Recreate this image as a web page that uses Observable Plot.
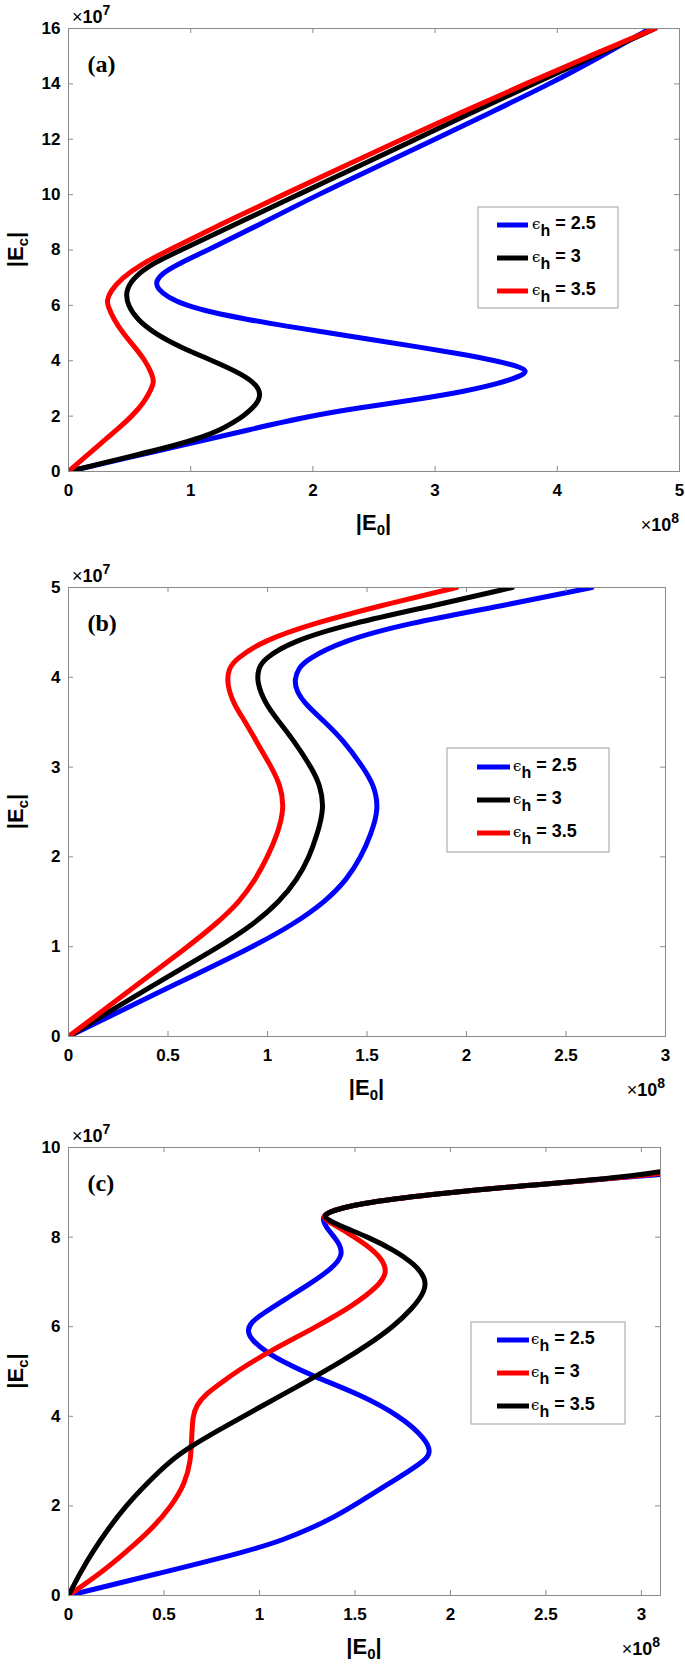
<!DOCTYPE html>
<html><head><meta charset="utf-8">
<script src="https://cdn.jsdelivr.net/npm/d3@7"></script>
<script src="https://cdn.jsdelivr.net/npm/@observablehq/plot@0.6"></script>
<style>
body{margin:0;background:#fff;}
#wrap{width:685px;}
.panel{position:relative;width:685px;display:block;}
.panel svg{display:block;}
</style></head><body><div id="wrap"></div><script>
// Units: |E0| in 1e8, |Ec| in 1e7
// ---- Panel (a) ----
const aXTicks = [0,1,2,3,4,5];
const aYTicks = [0,2,4,6,8,10,12,14,16];
const aBlueEc = [0,0.5,1,1.5,2,2.3,2.6,2.9,3.2,3.45,3.62,3.8,4.0,4.25,4.5,4.75,5.0,5.25,5.5,5.75,6.0,6.3,6.6,6.86,7.2,7.5,8,9,10,11,12,13,14,15,16];
const aBlueE0 = [0,0.49,0.98,1.47,1.97,2.38,2.85,3.25,3.54,3.70,3.76,3.68,3.50,3.20,2.86,2.50,2.14,1.78,1.45,1.17,0.96,0.81,0.73,0.71,0.78,0.90,1.14,1.60,2.04,2.52,3.0,3.47,3.94,4.36,4.76];
const aBlackEc = [0,0.5,1,1.25,1.5,1.75,2,2.3,2.55,2.8,3.1,3.5,4,4.5,5,5.5,6,6.5,7,7.5,8,9,10,11,12,13,14,15,16];
const aBlackE0 = [0,0.47,0.92,1.10,1.24,1.34,1.43,1.51,1.555,1.57,1.545,1.43,1.18,0.91,0.70,0.56,0.485,0.465,0.53,0.68,0.92,1.40,1.88,2.36,2.84,3.32,3.80,4.30,4.80];
const aRedEc = [0,0.5,1,1.5,2,2.5,3,3.24,3.5,4,4.5,5,5.5,6,6.17,6.5,7,7.5,8,9,10,11,12,13,14,15,16];
const aRedE0 = [0,0.13,0.26,0.395,0.52,0.62,0.68,0.70,0.685,0.63,0.54,0.445,0.37,0.32,0.315,0.34,0.44,0.60,0.82,1.28,1.76,2.24,2.73,3.23,3.74,4.26,4.80];
// ---- Panel (b) ----
const bXTicks = [0,0.5,1,1.5,2,2.5,3];
const bYTicks = [0,1,2,3,4,5];
const bBlueEc = [0,0.5,1,1.25,1.5,1.75,2,2.25,2.54,2.8,3,3.3,3.5,3.7,3.85,3.97,4.1,4.2,4.4,4.6,4.8,5];
const bBlueE0 = [0,0.46,0.93,1.13,1.29,1.40,1.47,1.52,1.56,1.535,1.48,1.38,1.29,1.19,1.145,1.135,1.155,1.20,1.37,1.70,2.19,2.63];
const bBlackEc = [0,0.5,1,1.25,1.5,1.75,2,2.25,2.54,2.8,3,3.3,3.5,3.7,3.95,4.1,4.2,4.4,4.6,4.8,5];
const bBlackE0 = [0,0.37,0.76,0.93,1.06,1.15,1.21,1.25,1.285,1.265,1.22,1.13,1.06,0.99,0.945,0.955,0.98,1.12,1.42,1.84,2.23];
const bRedEc = [0,0.5,1,1.25,1.5,1.75,2,2.25,2.54,2.8,3,3.3,3.5,3.7,3.93,4.1,4.2,4.4,4.6,4.8,5];
const bRedE0 = [0,0.30,0.60,0.74,0.86,0.94,1.00,1.05,1.085,1.065,1.02,0.94,0.89,0.83,0.795,0.805,0.84,0.97,1.23,1.57,1.95];
// ---- Panel (c) ----
const cXTicks = [0,0.5,1,1.5,2,2.5,3];
const cYTicks = [0,2,4,6,8,10];
const cBlueEc = [0,0.5,1,1.25,1.5,1.75,2,2.5,2.8,3.0,3.18,3.5,4,4.5,4.88,5.2,5.45,5.7,5.9,6.1,6.3,6.6,7.0,7.3,7.6,7.9,8.2,8.44,8.55,8.65,8.75,8.85,8.95,9.05,9.15,9.25,9.33,9.40];
const cBlueE0 = [0,0.48,0.95,1.13,1.27,1.39,1.49,1.68,1.79,1.86,1.90,1.87,1.74,1.52,1.29,1.13,1.03,0.96,0.935,0.955,1.02,1.13,1.28,1.38,1.44,1.415,1.35,1.325,1.36,1.43,1.54,1.70,1.90,2.13,2.40,2.68,2.90,3.1];
const cRedEc = [0,0.5,1,1.5,2,2.5,3,3.5,4,4.25,4.5,4.75,5,5.45,6,6.5,6.9,7.2,7.5,7.8,8.1,8.3,8.44,8.55,8.65,8.75,8.85,8.95,9.05,9.15,9.25,9.34,9.42];
const cRedE0 = [0,0.17,0.31,0.44,0.54,0.61,0.64,0.645,0.65,0.67,0.72,0.80,0.88,1.05,1.30,1.50,1.62,1.67,1.645,1.57,1.46,1.38,1.325,1.36,1.43,1.54,1.70,1.90,2.13,2.40,2.68,2.91,3.1];
const cBlackEc = [0,0.5,1,1.5,2,2.5,3,3.34,3.7,4.2,4.88,5.2,5.6,6,6.4,6.8,7.1,7.4,7.7,8,8.2,8.44,8.55,8.65,8.75,8.85,8.95,9.05,9.15,9.25,9.35,9.46];
const cBlackE0 = [0,0.06,0.13,0.21,0.30,0.41,0.53,0.645,0.79,1.0,1.29,1.42,1.57,1.70,1.80,1.87,1.87,1.81,1.71,1.57,1.45,1.325,1.36,1.43,1.54,1.70,1.90,2.13,2.40,2.68,2.92,3.1];

const BLUE="#0000ff", BLACK="#000000", RED="#ff0000";
const panels = [
  {label:"(a)", height:545, mt:28, mb:74, ml:68, mr:6, xd:[0,5], yd:[0,16], xt:aXTicks, yt:aYTicks,
   series:[[aBlueE0,aBlueEc,BLUE,"2.5"],[aBlackE0,aBlackEc,BLACK,"3"],[aRedE0,aRedEc,RED,"3.5"]],
   legend:{x0:478,x1:618,y0:207,y1:308,l0:497,l1:528,rows:[225,258,291],tx:532}},
  {label:"(b)", height:570, mt:42, mb:79, ml:68, mr:20, xd:[0,3], yd:[0,5], xt:bXTicks, yt:bYTicks,
   series:[[bBlueE0,bBlueEc,BLUE,"2.5"],[bBlackE0,bBlackEc,BLACK,"3"],[bRedE0,bRedEc,RED,"3.5"]],
   legend:{x0:447,x1:609,y0:203,y1:307,l0:477,l1:510,rows:[222,255,288],tx:513}},
  {label:"(c)", height:554, mt:32, mb:74, ml:68, mr:25, xd:[0,3.1], yd:[0,10], xt:cXTicks, yt:cYTicks,
   series:[[cBlueE0,cBlueEc,BLUE,"2.5"],[cRedE0,cRedEc,RED,"3"],[cBlackE0,cBlackEc,BLACK,"3.5"]],
   legend:{x0:471,x1:625,y0:207,y1:309,l0:497,l1:529,rows:[225,258,291],tx:531}}
];

const W = 685, FRAME="#8a8a8a", SANS="'Liberation Sans', Arial, sans-serif";
const fmt = d => String(d);
const wrap = document.getElementById("wrap");
for (const p of panels) {
  const iw = W - p.ml - p.mr, ih = p.height - p.mt - p.mb;
  const lines = p.series.map(([xs, ys, color]) =>
    Plot.line(ys.map((y,i)=>({x:xs[i], y})), {x:"x", y:"y", stroke:color, strokeWidth:5, curve:"basis", clip:true}));
  const chart = Plot.plot({
    width: W, height: p.height,
    marginTop: p.mt, marginBottom: p.mb, marginLeft: p.ml, marginRight: p.mr,
    style: {fontFamily: SANS, fontWeight: "bold", fontSize: "17px", color: "#000", background: "#fff"},
    x: {domain: p.xd}, y: {domain: p.yd},
    marks: [
      ...lines,
      Plot.frame({stroke: FRAME, strokeWidth: 1}),
      Plot.tickX(p.xt, {x: d=>d, insetTop: ih-5, stroke: FRAME}),
      Plot.tickX(p.xt, {x: d=>d, insetBottom: ih-5, stroke: FRAME}),
      Plot.tickY(p.yt, {y: d=>d, insetLeft: iw-5, stroke: FRAME}),
      Plot.tickY(p.yt, {y: d=>d, insetRight: iw-5, stroke: FRAME}),
      Plot.axisX({ticks: p.xt, tickFormat: fmt, tickSize: 0, tickPadding: 12, label: null, fontSize: 17, fontWeight: "bold"}),
      Plot.axisY({ticks: p.yt, tickFormat: fmt, tickSize: 0, tickPadding: 8, label: null, fontSize: 17, fontWeight: "bold"}),
      Plot.text([p.label], {text: d=>d, frameAnchor: "top-left", dx: 19, dy: 26, textAnchor: "start",
        fontFamily: "'Liberation Serif', 'Times New Roman', serif", fontWeight: "bold", fontSize: 24, fill: "#000"})
    ]
  });
  const div = document.createElement("div");
  div.className = "panel";
  div.appendChild(chart);
  wrap.appendChild(div);
  const svg = d3.select(chart);

  // y label |Ec|
  const yl = svg.append("text").attr("transform", `translate(23,${p.mt+ih/2}) rotate(-90)`)
    .attr("text-anchor","middle").attr("font-size",22).attr("font-weight","bold").attr("font-family",SANS).attr("fill","#000");
  yl.append("tspan").text("|E");
  yl.append("tspan").attr("dy",5).attr("font-size",15).text("c");
  yl.append("tspan").attr("dy",-5).text("|");
  // x label |E0|
  const xl = svg.append("text").attr("x", p.ml+iw/2).attr("y", p.mt+ih+59)
    .attr("text-anchor","middle").attr("font-size",22).attr("font-weight","bold").attr("font-family",SANS).attr("fill","#000");
  xl.append("tspan").text("|E");
  xl.append("tspan").attr("dy",5).attr("font-size",15).text("0");
  xl.append("tspan").attr("dy",-5).text("|");
  // exponent labels
  const e7 = svg.append("text").attr("x", p.ml+4).attr("y", p.mt-5).attr("text-anchor","start")
    .attr("font-size",18).attr("font-family",SANS).attr("fill","#000");
  e7.append("tspan").attr("font-weight","normal").text("×");
  e7.append("tspan").attr("font-weight","bold").text("10");
  e7.append("tspan").attr("font-weight","bold").attr("font-size",14).attr("dy",-8).text("7");
  const e8 = svg.append("text").attr("x", W-p.mr).attr("y", p.mt+ih+60).attr("text-anchor","end")
    .attr("font-size",18).attr("font-family",SANS).attr("fill","#000");
  e8.append("tspan").attr("font-weight","normal").text("×");
  e8.append("tspan").attr("font-weight","bold").text("10");
  e8.append("tspan").attr("font-weight","bold").attr("font-size",14).attr("dy",-8).text("8");

  // legend
  const L = p.legend;
  const g = svg.append("g");
  g.append("rect").attr("x",L.x0).attr("y",L.y0).attr("width",L.x1-L.x0).attr("height",L.y1-L.y0)
    .attr("fill","#fff").attr("stroke","#a0a0a0").attr("stroke-width",1);
  p.series.forEach(([xs,ys,color,lab],i)=>{
    const cy = L.rows[i];
    g.append("line").attr("x1",L.l0).attr("x2",L.l1).attr("y1",cy).attr("y2",cy).attr("stroke",color).attr("stroke-width",5);
    const t = g.append("text").attr("x",L.tx).attr("y",cy+4).attr("text-anchor","start")
      .attr("font-family",SANS).attr("font-size",18).attr("fill","#000");
    t.append("tspan").attr("font-family","'DejaVu Serif', serif").attr("font-weight","normal").attr("font-size",15).text("ϵ");
    t.append("tspan").attr("font-weight","bold").attr("dy",7).attr("font-size",16).text("h");
    t.append("tspan").attr("font-weight","bold").attr("dy",-7).text(" = " + lab);
  });
}
</script></body></html>
